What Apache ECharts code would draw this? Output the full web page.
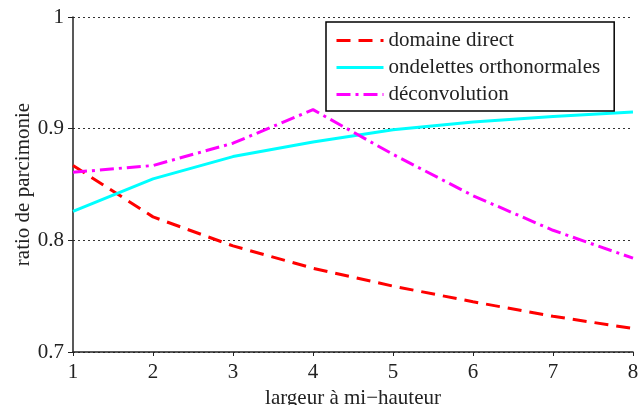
<!DOCTYPE html>
<html>
<head>
<meta charset="utf-8">
<script src="https://cdn.jsdelivr.net/npm/echarts@6/dist/echarts.min.js"></script>
<style>
  html, body { margin: 0; padding: 0; background: #fff; }
  #chart { width: 638px; height: 405px; }
</style>
</head>
<body>
<div id="chart"></div>
<script>
// largeur a mi-hauteur
const xValues = [1, 2, 3, 4, 5, 6, 7, 8];
const domaineDirect = [0.867, 0.821, 0.795, 0.775, 0.759, 0.745, 0.732, 0.721];
const ondelettes = [0.826, 0.855, 0.875, 0.888, 0.899, 0.906, 0.911, 0.915];
const deconvolution = [0.861, 0.867, 0.887, 0.917, 0.877, 0.840, 0.809, 0.784];

const seriesNames = ['domaine direct', 'ondelettes orthonormales', 'déconvolution'];

const font = 'Liberation Serif';

function pairs(vals) {
    return xValues.map((x, i) => [x, vals[i]]);
}

let chart = echarts.init(document.getElementById('chart'));

let seriesData = [
    {
        name: seriesNames[0],
        type: 'line',
        symbol: 'none',
        data: pairs(domaineDirect),
        lineStyle: { color: '#ff0000', width: 3, type: [14, 8] },
        itemStyle: { color: '#ff0000' }
    },
    {
        name: seriesNames[1],
        type: 'line',
        symbol: 'none',
        data: pairs(ondelettes),
        lineStyle: { color: '#00ffff', width: 3 },
        itemStyle: { color: '#00ffff' }
    },
    {
        name: seriesNames[2],
        type: 'line',
        symbol: 'none',
        data: pairs(deconvolution),
        lineStyle: { color: '#ff00ff', width: 3, type: [14, 5, 3, 5] },
        itemStyle: { color: '#ff00ff' }
    }
];

let options = {
    animation: false,
    backgroundColor: '#fff',
    textStyle: { fontFamily: font },
    grid: {
        left: 73,
        right: 5,
        top: 17,
        bottom: 53,
        outerBoundsMode: 'none'
    },
    legend: {
        data: seriesNames,
        orient: 'vertical',
        left: 326,
        top: 22,
        padding: [8, 14, 6, 9],
        itemGap: 6,
        itemWidth: 47,
        itemHeight: 14,
        borderColor: '#000',
        borderWidth: 1.5,
        backgroundColor: '#fff',
        itemStyle: { opacity: 0 },
        lineStyle: { width: 3 },
        textStyle: {
            fontFamily: font,
            fontSize: 21,
            color: '#222',
            lineHeight: 21
        }
    },
    xAxis: {
        type: 'value',
        min: 1,
        max: 8,
        interval: 1,
        name: 'largeur à mi−hauteur',
        nameLocation: 'middle',
        nameGap: 31,
        nameTextStyle: { fontFamily: font, fontSize: 21, color: '#222' },
        axisLine: { show: true, lineStyle: { color: '#222', width: 1.5 } },
        axisTick: { show: true, length: 4, lineStyle: { color: '#222' } },
        axisLabel: { fontFamily: font, fontSize: 21, color: '#222', margin: 10 },
        splitLine: { show: false }
    },
    yAxis: {
        type: 'value',
        min: 0.7,
        max: 1,
        interval: 0.1,
        name: 'ratio de parcimonie',
        nameLocation: 'middle',
        nameGap: 39,
        nameMoveOverlap: false,
        nameTextStyle: { fontFamily: font, fontSize: 21, color: '#222' },
        axisLine: { show: true, lineStyle: { color: '#222', width: 1.5 } },
        axisTick: { show: true, length: 5, lineStyle: { color: '#222' } },
        axisLabel: {
            fontFamily: font, fontSize: 21, color: '#222', margin: 9,
            formatter: v => String(Math.round(v * 10) / 10)
        },
        splitLine: { show: true, lineStyle: { color: '#333', width: 1, type: [2, 3] } }
    },
    series: seriesData
};

chart.setOption(options);
</script>
</body>
</html>
